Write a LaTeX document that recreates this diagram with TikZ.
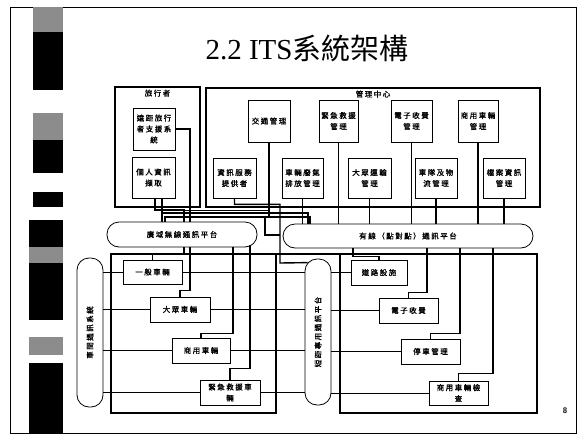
\documentclass[tikz,border=0pt]{standalone}
\usepackage{fontspec}
\usepackage{graphicx}
\setmainfont{Liberation Serif}
\newfontfamily\cjk{Noto Sans CJK TC}
\newfontfamily\cjkb{Noto Sans CJK TC}[LetterSpace=20, FakeBold=1.2]
\tikzset{
  box/.style={draw, line width=0.8pt, font=\cjkb\fontsize{7.5}{11}\selectfont, align=center, inner sep=0pt},
  pill/.style={draw, line width=0.8pt, rounded corners=12pt, font=\cjkb\fontsize{7.5}{11}\selectfont, inner sep=0pt},
  frm/.style={draw, line width=1.1pt, inner sep=0pt},
  flabel/.style={font=\cjkb\fontsize{7.5}{9}\selectfont, anchor=north, inner sep=3pt},
  wire/.style={line width=1.4pt},
  rowline/.style={line width=1pt},
  frameline/.style={line width=1.4pt},
  darkbar/.style={fill=black, draw=none},
  graybar/.style={fill=black!45, draw=none}
}
\begin{document}
\begin{tikzpicture}[x=1pt,y=-1pt]
\useasboundingbox (0,0) rectangle (583,437);
% slide border
\draw[line width=1pt] (10,7) rectangle (576,433);
% left decorative bar
\fill[graybar] (33,7) rectangle (63,32);
\fill[darkbar] (33,32) rectangle (63,90);
\fill[graybar] (33,113) rectangle (63,140);
\fill[darkbar] (33,140) rectangle (63,173);
\fill[darkbar] (33,192) rectangle (63,207);
\fill[darkbar] (29,220) rectangle (63,247);
\fill[graybar] (29,247) rectangle (63,263);
\fill[darkbar] (29,263) rectangle (63,320);
\fill[graybar] (29,337) rectangle (63,355);
\fill[darkbar] (29,363) rectangle (63,433);
% title and page number
\node (title) at (307,48) {\fontsize{29}{30}\selectfont 2.2 ITS{\cjk 系統架構}};
\node[font=\sffamily\bfseries\fontsize{8}{8}\selectfont] (pg) at (565,411) {8};

% frames
\node[frm, minimum width=85pt, minimum height=120pt, label={[flabel]north:旅行者}] (trav) at (157.5,147) {};
\node[frm, minimum width=334pt, minimum height=119pt, label={[flabel]north:管理中心}] (ctr) at (373,147.5) {};

% traveler boxes
\node[box, minimum width=42pt, minimum height=42pt] (remote) at (154,129) {遠距旅行\\者支援系\\統};
\node[box, minimum width=43pt, minimum height=41pt] (pia) at (153.5,177.5) {個人資訊\\擷取};
% center boxes
\node[box, minimum width=42pt, minimum height=42pt] (tm) at (269,121) {交通管理};
\node[box, minimum width=39pt, minimum height=42pt] (em) at (338.5,121) {緊急救援\\管理};
\node[box, minimum width=41pt, minimum height=42pt] (toll) at (411.5,121) {電子收費\\管理};
\node[box, minimum width=40pt, minimum height=42pt] (cvo) at (478,121) {商用車輛\\管理};
\node[box, minimum width=43pt, minimum height=40pt] (isp) at (234.5,178) {資訊服務\\提供者};
\node[box, minimum width=41pt, minimum height=40pt] (emis) at (302.5,178) {車輛廢氣\\排放管理};
\node[box, minimum width=43pt, minimum height=40pt] (transit) at (369.5,178) {大眾運輸\\管理};
\node[box, minimum width=42pt, minimum height=40pt] (fleet) at (436,178) {車隊及物\\流管理};
\node[box, minimum width=42pt, minimum height=40pt] (arch) at (504,178) {檔案資訊\\管理};

% platforms
\node[pill, minimum width=150pt, minimum height=25pt] (wide) at (182,234.5) {廣域無線通訊平台};
\node[pill, minimum width=250pt, minimum height=24pt] (wire) at (408,236) {有線（點對點）通訊平台};
\node[pill, minimum width=26pt, minimum height=149pt] (v2v) at (90,332.5) {\rotatebox{90}{車間通訊系統}};
\node[pill, minimum width=26pt, minimum height=146pt] (dsrc) at (318,332) {\rotatebox{90}{短距專用通訊平台}};

% vehicle boxes
\node[box, minimum width=59pt, minimum height=24pt] (gv) at (152.5,272) {一般車輛};
\node[box, minimum width=60pt, minimum height=25pt] (tv) at (180,309.5) {大眾車輛};
\node[box, minimum width=58pt, minimum height=25pt] (cv) at (201,350.5) {商用車輛};
\node[box, minimum width=60pt, minimum height=25pt] (ev) at (230,392.5) {緊急救援車\\輛};
% roadside boxes
\node[box, minimum width=56pt, minimum height=25pt] (rs) at (379,272.5) {道路設施};
\node[box, minimum width=59pt, minimum height=25pt] (tc) at (408.5,310.5) {電子收費};
\node[box, minimum width=59pt, minimum height=25pt] (pk) at (430.5,351.5) {停車管理};
\node[box, minimum width=59pt, minimum height=24pt] (ci) at (458.5,393) {商用車輛檢\\查};

% junction coordinates
\coordinate (bBs) at (162,213);
\coordinate (bC) at (310,217);
\coordinate (bA1) at (184,210);
\coordinate (bA2) at (268,210);
\coordinate (k1) at (280,263);
\coordinate (u1) at (265,217);
\coordinate (u2) at (280,235);

% frames around vehicle and roadside groups
\draw[frameline] (276,254) -- (111,254) -- (111,413) -- (276,413) -- cycle;
\draw[frameline] (276,254) -- (537,254) -- (537,413) -- (340,413) -- (340,254);

% center boxes to wireline platform
\foreach \n in {em,toll,cvo,emis,transit,fleet,arch}
  \draw[wire] (\n.south) -- (\n.south |- wire.north);
\draw[wire] (tm.south) -- (tm.south |- bC);

% traveler wiring
\draw[wire] (remote.east) -| ([xshift=8pt]wide.north);
\draw[wire] ([xshift=1.5pt]pia.south) |- (bA1) -- ([xshift=2pt]wide.north);
\draw[rowline] (bA1) -- (bA2);
\draw[wire] ([xshift=8.5pt]pia.south) -- ([xshift=-20pt]wide.north);
\draw[wire] (bBs) -| ([xshift=-100pt]wire.north);
\draw[wire] ([xshift=-17pt]wide.north) |- (bC) -- (bC |- wire.north);
\draw[wire] (isp.south) -- ++(0,6) -| (k1) -- ([xshift=3pt,yshift=-4pt]dsrc.north west);
\draw[wire] (u1) |- (u2);

% wide-area wireless to vehicles
\draw[wire] ([xshift=2pt]wide.south) -- ++(0,7) -| (gv.north);
\draw[wire] ([xshift=8pt]wide.south) -- ++(0,43) -| (tv.north);
\draw[wire] ([xshift=51pt]wide.south) -- ++(0,86) -| (cv.north);
\draw[wire] ([xshift=68pt,yshift=2pt]wide.south) -- ++(0,123) -| (ev.north);

% wireline to roadside
\draw[wire] ([xshift=-55pt]wire.south) -- ++(0,8) -| (rs.north);
\draw[wire] ([xshift=19pt]wire.south) -- ++(0,44) -| (tc.north);
\draw[wire] ([xshift=52pt]wire.south) -- ++(0,85) -| (pk.north);
\draw[wire] ([xshift=85pt]wire.south) -- ++(0,125) -| (ci.north);

% vehicle-to-vehicle and short range rows
\foreach \v in {gv,tv,cv,ev} {
  \draw[rowline] (v2v.east |- \v.west) -- (\v.west);
  \draw[rowline] (\v.east) -- (\v.east -| dsrc.west);
}
\foreach \r in {rs,tc,pk,ci}
  \draw[rowline] (dsrc.east |- \r.west) -- (\r.west);
\end{tikzpicture}
\end{document}
